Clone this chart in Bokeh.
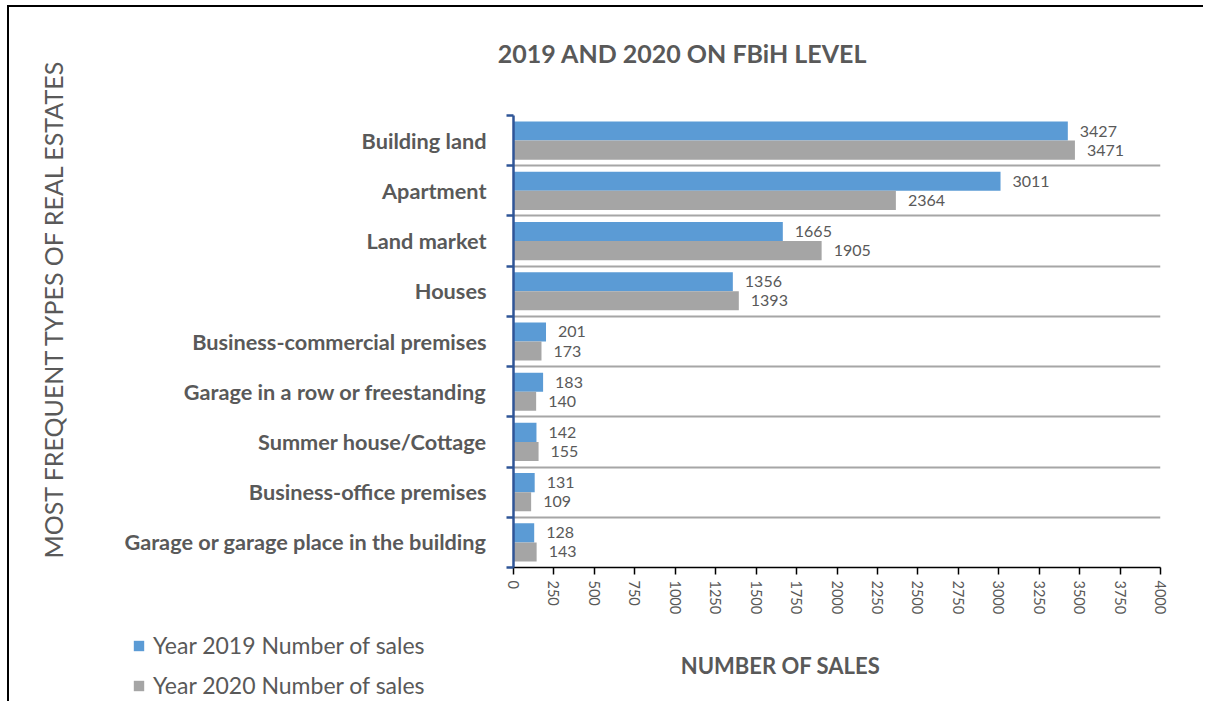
import math
from bokeh.plotting import figure
from bokeh.models import (Range1d, FixedTicker, LabelSet, Label, ColumnDataSource,
                          Legend, LegendItem)
from bokeh.transform import dodge
from bokeh.core.properties import value
from bokeh.embed import file_html
from bokeh.resources import INLINE

categories = ["Building land", "Apartment", "Land market", "Houses",
              "Business-commercial premises", "Garage in a row or freestanding",
              "Summer house/Cottage", "Business-office premises",
              "Garage or garage place in the building"]
sales_2019 = [3427, 3011, 1665, 1356, 201, 183, 142, 131, 128]
sales_2020 = [3471, 2364, 1905, 1393, 173, 140, 155, 109, 143]
x_ticks = list(range(0, 4001, 250))
series_names = ["Year 2019 Number of sales", "Year 2020 Number of sales"]

FONT = "Lato"
TXT = "#595959"
BLUE = "#5B9BD5"
GRAY = "#A5A5A5"
W = 1196

n = len(categories)
p = figure(width=W, height=620, output_backend="svg", toolbar_location=None,
           x_range=Range1d(0, 4000), y_range=Range1d(n, 0),
           min_border_left=504, min_border_right=45,
           min_border_top=108, min_border_bottom=60)
p.outline_line_color = None
p.styles = {"margin-left": "7px", "margin-top": "5px",
            "border-top": "2px solid black", "border-left": "2px solid black"}

centers = [i + 0.5 for i in range(n)]
src = ColumnDataSource(dict(
    cat=categories, pos=centers,
    v19=sales_2019, v20=sales_2020,
    t19=[str(v) for v in sales_2019], t20=[str(v) for v in sales_2020],
))

bar_kw = dict(left=0, height=0.38, line_color=None, source=src)
p.hbar(y=dodge("pos", -0.19, range=p.y_range), right="v19", fill_color=BLUE, **bar_kw)
p.hbar(y=dodge("pos", 0.19, range=p.y_range), right="v20", fill_color=GRAY, **bar_kw)

for col, off in (("19", -0.19), ("20", 0.19)):
    p.add_layout(LabelSet(x="v" + col, y=dodge("pos", off, range=p.y_range), text="t" + col,
                          source=src, x_offset=12, text_baseline="middle",
                          text_font=value(FONT), text_font_size="16px", text_color=TXT))

# x axis
p.xaxis.ticker = FixedTicker(ticks=x_ticks)
p.xaxis.major_label_orientation = -math.pi / 2
p.xaxis.axis_line_color = "black"
p.xaxis.axis_line_width = 1.5
p.xaxis.major_tick_line_color = "black"
p.xaxis.major_tick_line_width = 1.5
p.xaxis.major_tick_in = 0
p.xaxis.major_tick_out = 7
p.xaxis.minor_tick_line_color = None
p.xaxis.major_label_text_font = FONT
p.xaxis.major_label_text_font_size = "14.5px"
p.xaxis.major_label_text_color = TXT
p.xaxis.major_label_standoff = 6

# y axis: labels at category centres, boundary ticks as minor ticks
p.yaxis.ticker = FixedTicker(ticks=centers, minor_ticks=list(range(n + 1)))
p.yaxis.major_label_overrides = {c: cat for c, cat in zip(centers, categories)}
p.yaxis.major_label_text_font = FONT
p.yaxis.major_label_text_font_size = "21.7px"
p.yaxis.major_label_text_font_style = "bold"
p.yaxis.major_label_text_color = TXT
p.yaxis.major_label_standoff = 20
p.yaxis.axis_line_color = "#2F5597"
p.yaxis.axis_line_width = 2.5
p.yaxis.major_tick_line_color = None
p.yaxis.major_tick_in = 0
p.yaxis.major_tick_out = 0
p.yaxis.minor_tick_line_color = "#2F5597"
p.yaxis.minor_tick_line_width = 2.5
p.yaxis.minor_tick_in = 0
p.yaxis.minor_tick_out = 7

p.xgrid.visible = False
p.ygrid.ticker = FixedTicker(ticks=list(range(n)))
p.ygrid.grid_line_color = "#A6A6A6"
p.ygrid.grid_line_width = 2

# chart title and y-axis title (side panels are not clipped to the frame)
p.add_layout(Label(x=1045, y=-1.235, text="2019 AND 2020 ON FBiH LEVEL", text_align="center",
                   text_baseline="middle", text_font=FONT, text_font_size="25px",
                   text_font_style="bold", text_color=TXT), "above")
p.add_layout(Label(x=-2850, y=3.84, text="MOST FREQUENT TYPES OF REAL ESTATES", angle=math.pi / 2,
                   text_align="center", text_baseline="middle", text_font=FONT,
                   text_font_size="25px", text_color=TXT), "left")

# bottom strip (separate root): legend and x-axis title, frame covers the whole strip
q = figure(width=W, height=76, output_backend="svg", toolbar_location=None,
           x_range=Range1d(0, W), y_range=Range1d(0, 76),
           x_axis_location=None, y_axis_location=None,
           min_border_left=0, min_border_right=0, min_border_top=0, min_border_bottom=0)
q.outline_line_color = None
q.grid.visible = False
q.styles = {"margin-left": "7px", "border-left": "2px solid black"}
e19 = q.hbar(y="pos", right="v19", fill_color=BLUE, visible=False, **bar_kw)
e20 = q.hbar(y="pos", right="v20", fill_color=GRAY, visible=False, **bar_kw)
legend = Legend(items=[LegendItem(label=series_names[0], renderers=[e19]),
                       LegendItem(label=series_names[1], renderers=[e20])],
                location=(123, 2), orientation="vertical",
                glyph_width=13, glyph_height=13, label_height=25,
                spacing=12, label_standoff=8, padding=0, margin=0,
                border_line_color=None, background_fill_alpha=0, inactive_fill_alpha=0,
                label_text_font=FONT, label_text_font_size="23px", label_text_color=TXT)
q.add_layout(legend, "center")
q.add_layout(Label(x=771, y=36, text="NUMBER OF SALES", text_align="center",
                   text_baseline="middle", text_font=FONT, text_font_size="22px",
                   text_font_style="bold", text_color=TXT))

open("out.html", "w").write(file_html([p, q], INLINE))
